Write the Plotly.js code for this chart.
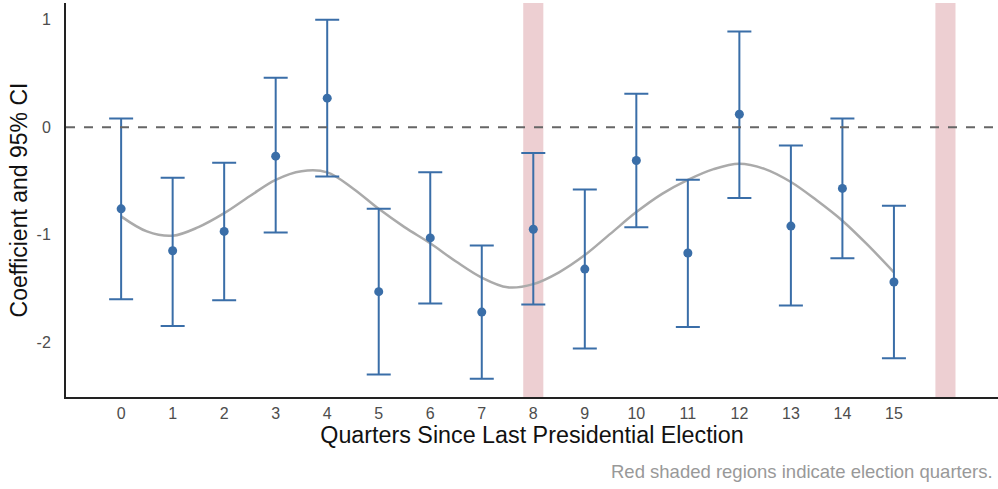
<!DOCTYPE html>
<html>
<head>
<meta charset="utf-8">
<script src="https://cdn.plot.ly/plotly-3.0.1.min.js"></script>
<style>
  html, body { margin: 0; padding: 0; background: #ffffff; }
  #chart { width: 998px; height: 489px; }
</style>
</head>
<body>
<div id="chart"></div>
<script>
// Quarter index since the last presidential election
const quarters = [0, 1, 2, 3, 4, 5, 6, 7, 8, 9, 10, 11, 12, 13, 14, 15];
// Point estimates
const coef = [-0.76, -1.15, -0.97, -0.27, 0.27, -1.53, -1.03, -1.72, -0.95, -1.32, -0.31, -1.17, 0.12, -0.92, -0.57, -1.44];
// 95% confidence bounds
const ciLow  = [-1.60, -1.85, -1.61, -0.98, -0.46, -2.30, -1.64, -2.34, -1.65, -2.06, -0.93, -1.86, -0.66, -1.66, -1.22, -2.15];
const ciHigh = [0.08, -0.47, -0.33, 0.46, 1.00, -0.76, -0.42, -1.10, -0.24, -0.58, 0.31, -0.49, 0.89, -0.17, 0.08, -0.73];
// Smoothed trend through the estimates
const trendX = [0, 0.5, 1, 1.5, 2, 2.5, 3, 3.5, 4, 4.5, 5, 5.5, 6, 6.5, 7, 7.5, 8, 8.5, 9, 9.5, 10, 10.5, 11, 11.5, 12, 12.5, 13, 13.5, 14, 14.5, 15];
const trendY = [-0.83, -0.97, -1.01, -0.93, -0.80, -0.64, -0.49, -0.41, -0.42, -0.57, -0.76, -0.93, -1.08, -1.25, -1.40, -1.49, -1.46, -1.35, -1.19, -0.99, -0.79, -0.62, -0.49, -0.39, -0.34, -0.39, -0.51, -0.68, -0.87, -1.10, -1.35];
// Election quarters (shaded)
const electionQuarters = [8, 16];
const tickVals = quarters;
const tickText = quarters.map(String);

const blue = '#3A6EA8';

const errPlus = ciHigh.map((h, i) => h - coef[i]);
const errMinus = coef.map((c, i) => c - ciLow[i]);

const traces = [
  {
    x: trendX, y: trendY,
    type: 'scatter', mode: 'lines',
    line: { color: '#AAAAAA', width: 2.5, shape: 'spline', smoothing: 1 },
    hoverinfo: 'skip', showlegend: false
  },
  {
    x: quarters, y: coef,
    type: 'scatter', mode: 'markers',
    marker: { color: blue, size: 9 },
    error_y: {
      type: 'data', symmetric: false,
      array: errPlus, arrayminus: errMinus,
      color: blue, thickness: 2, width: 12
    },
    showlegend: false
  }
];

const shapes = electionQuarters.map(q => ({
  type: 'rect', xref: 'x', yref: 'paper',
  x0: q - 0.195, x1: q + 0.195, y0: 0, y1: 1,
  fillcolor: '#EDCFD2', line: { width: 0 }, layer: 'below'
}));
shapes.push({
  type: 'line', xref: 'paper', yref: 'y',
  x0: 0, x1: 1, y0: 0, y1: 0,
  line: { color: '#666666', width: 2, dash: '9px,9px' }, layer: 'above'
});

const layout = {
  width: 998, height: 489,
  margin: { l: 66, r: 0, t: 3, b: 92 },
  paper_bgcolor: '#ffffff', plot_bgcolor: '#ffffff',
  font: { family: 'Liberation Sans, Arial, sans-serif' },
  xaxis: {
    range: [-1.07, 17.02],
    tickvals: tickVals, ticktext: tickText,
    showgrid: false, zeroline: false,
    showline: true, linecolor: '#222222', linewidth: 2,
    ticks: '', ticklabelstandoff: 1,
    tickfont: { size: 16, color: '#4D4D4D' },
    title: { text: 'Quarters Since Last Presidential Election', font: { size: 23.3, color: '#111111' }, standoff: 2 }
  },
  yaxis: {
    range: [-2.51, 1.155],
    tickvals: [-2, -1, 0, 1], ticktext: ['-2', '-1', '0', '1'],
    showgrid: false, zeroline: false,
    showline: true, linecolor: '#222222', linewidth: 2,
    ticks: '', ticklabelstandoff: 10,
    tickfont: { size: 16, color: '#4D4D4D' },
    title: { text: 'Coefficient and 95% CI', font: { size: 23, color: '#111111' }, standoff: 3 }
  },
  shapes: shapes,
  annotations: [{
    xref: 'paper', yref: 'paper', x: 1, y: 0,
    xanchor: 'right', yanchor: 'middle', yshift: -74, xshift: -3,
    text: 'Red shaded regions indicate election quarters.',
    showarrow: false, font: { size: 18.5, color: '#999999' }
  }],
  showlegend: false
};

Plotly.newPlot('chart', traces, layout, { displayModeBar: false, staticPlot: true });
</script>
</body>
</html>
